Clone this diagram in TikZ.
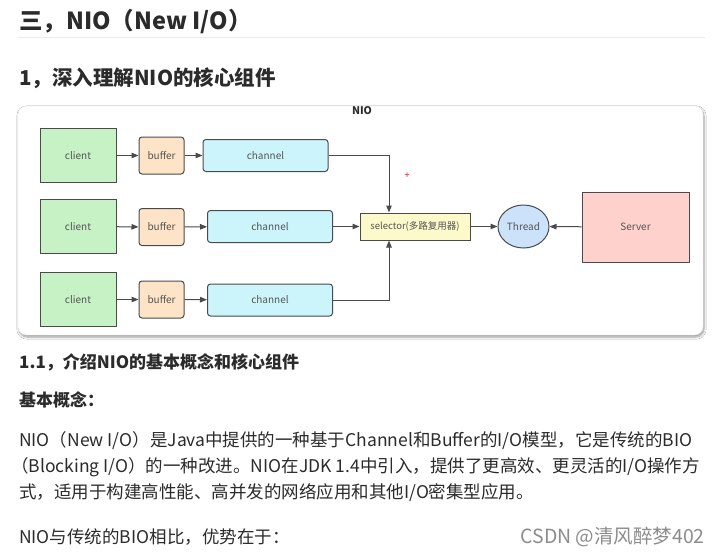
\documentclass[tikz,border=0pt]{standalone}
\usepackage{fontspec}
\setmainfont{Noto Sans CJK SC}
\usetikzlibrary{arrows.meta,shadows.blur,shapes.geometric}
\definecolor{txt}{HTML}{2B2B2B}
\definecolor{edge}{HTML}{4A4A4A}
\definecolor{boxtxt}{HTML}{555555}
\definecolor{clientfill}{HTML}{C6F2C6}
\definecolor{bufferfill}{HTML}{FDE3C8}
\definecolor{channelfill}{HTML}{CCF5FB}
\definecolor{selfill}{HTML}{FCFACA}
\definecolor{threadfill}{HTML}{CBE2FA}
\definecolor{serverfill}{HTML}{FFD1CD}
\begin{document}
\begin{tikzpicture}[
  x=1pt, y=-1pt,
  box/.style={draw=edge, line width=1pt, text=boxtxt, inner sep=0pt,
    font=\fontsize{10}{12}\selectfont},
  clientbox/.style={box, fill=clientfill, minimum width=76pt, minimum height=54pt},
  bufferbox/.style={box, fill=bufferfill, rounded corners=3pt, minimum width=45pt, minimum height=37pt},
  channelbox/.style={box, fill=channelfill, rounded corners=3pt, minimum width=125pt, minimum height=32pt},
  flow/.style={draw=edge, line width=1pt, -{Triangle[length=7pt,width=5.5pt]}},
  heading/.style={anchor=west, inner sep=0pt, text=txt, font=\bfseries},
  body/.style={anchor=west, inner sep=0pt, text=txt, font=\fontsize{17.5}{20}\selectfont}
]
\useasboundingbox[fill=white] (0,0) rectangle (717,554);

% headings
\node[heading, font=\fontsize{23.5}{27}\bfseries\selectfont] (title) at (19,22) {三，NIO（New I/O）};
\draw[black!8, line width=0.8pt] (18,37) -- (705,37);
\node[heading, font=\fontsize{20.5}{24}\bfseries\selectfont] (sec1) at (19,78) {1，深入理解NIO的核心组件};

% diagram panel
\draw[draw=black!14, fill=white, rounded corners=8pt,
  blur shadow={shadow xshift=1pt, shadow yshift=-2pt, shadow blur steps=6, shadow opacity=40}]
  (18,106) rectangle (703,335);
\node[font=\fontsize{10.5}{12}\bfseries\selectfont, text=txt] (nio) at (362,111) {NIO};

% rows
\node[clientbox] (c1) at (78,155.5) {client};
\node[clientbox] (c2) at (78,226.5) {client};
\node[clientbox] (c3) at (78,299.5) {client};
\node[bufferbox] (b1) at (161.5,155.5) {buffer};
\node[bufferbox] (b2) at (161.5,227) {buffer};
\node[bufferbox] (b3) at (161.5,299.5) {buffer};
\node[channelbox] (ch1) at (265.5,155.5) {channel};
\node[channelbox] (ch2) at (270,226.5) {channel};
\node[channelbox] (ch3) at (270,300) {channel};

% right part
\node[box, fill=selfill, minimum width=110pt, minimum height=27pt,
  font=\fontsize{9.5}{11}\selectfont] (sel) at (415,226.5) {selector(多路复用器)};
\node[box, ellipse, fill=threadfill, minimum width=51pt, minimum height=43pt] (thr) at (523.5,226.5) {Thread};
\node[box, fill=serverfill, minimum width=107pt, minimum height=70pt] (srv) at (635.5,227) {Server};
\node[text=red, font=\fontsize{9}{10}\selectfont, inner sep=0pt] (plus) at (407,176) {+};
\coordinate (tap) at (389,0);

\foreach \i in {1,2,3} {
  \draw[flow] (c\i) -- (b\i);
  \draw[flow] (b\i) -- (ch\i);
}
\draw[flow] (ch1.east) -| (tap |- sel.north);
\draw[flow] (ch2) -- (sel);
\draw[flow] (ch3.east) -| (tap |- sel.south);
\draw[flow] (sel) -- (thr);
\draw[flow] (srv) -- (thr);

% text below
\node[heading, font=\fontsize{17}{20}\bfseries\selectfont] (sec11) at (19,362) {1.1，介绍NIO的基本概念和核心组件};
\node[heading, font=\fontsize{17}{20}\bfseries\selectfont] (concept) at (19,400) {基本概念：};
\node[body] (l1) at (19,441) {NIO（New I/O）是Java中提供的一种基于Channel和Buffer的I/O模型，它是传统的BIO};
\node[body] (l2) at (11,467) {（Blocking I/O）的一种改进。NIO在JDK 1.4中引入，提供了更高效、更灵活的I/O操作方};
\node[body] (l3) at (19,493) {式，适用于构建高性能、高并发的网络应用和其他I/O密集型应用。};
\node[body] (l4) at (19,537) {NIO与传统的BIO相比，优势在于：};
\node[anchor=east, inner sep=0pt, text=black!45, font=\fontsize{19.5}{22}\selectfont] (wm) at (705,537) {CSDN @清风醉梦402};
\end{tikzpicture}
\end{document}
